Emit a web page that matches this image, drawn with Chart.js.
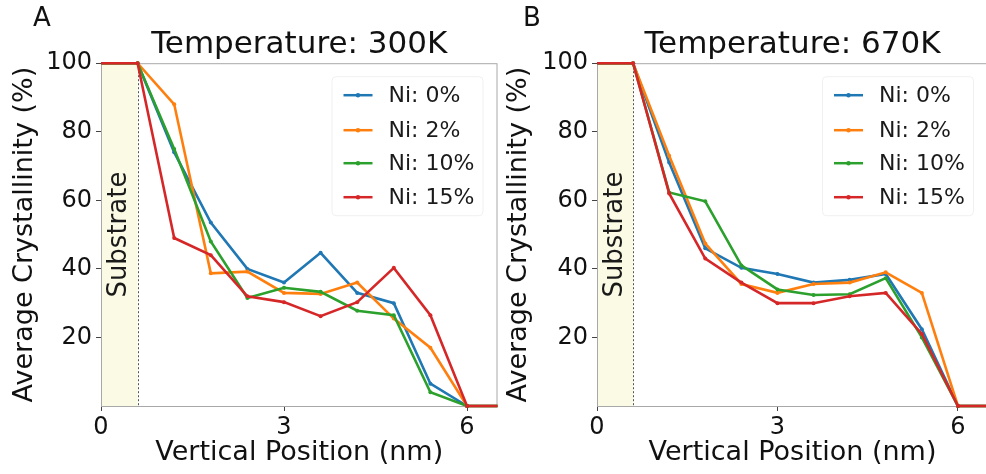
<!DOCTYPE html>
<html>
<head>
<meta charset="utf-8">
<script src="https://cdn.jsdelivr.net/npm/chart.js@4.4.0/dist/chart.umd.min.js"></script>
<style>
  html, body { margin: 0; padding: 0; background: #fff; overflow: hidden; }
  #wrap { position: relative; width: 986px; height: 474px; overflow: hidden; }
  #cA { position: absolute; left: 0; top: 0; }
  #cB { position: absolute; left: 500px; top: 0; }
</style>
</head>
<body>
<div id="wrap">
  <canvas id="cA" width="500" height="474"></canvas>
  <canvas id="cB" width="490" height="474"></canvas>
</div>
<script>
// vertical positions (nm), substrate ends at 0.6
var positions = [0, 0.6, 1.2, 1.8, 2.4, 3.0, 3.6, 4.2, 4.8, 5.4, 6.0, 6.5];
var substrateEnd = 0.6;
var xTicks = [0, 3, 6];
var yTicks = [20, 40, 60, 80, 100];
var labels = ['Ni: 0%', 'Ni: 2%', 'Ni: 10%', 'Ni: 15%'];
var colors = ['#1f77b4', '#ff7f0e', '#2ca02c', '#d62728'];

// 300K
var t300_ni0  = [100, 100, 74, 53.5, 40, 36, 44.7, 33, 30, 6.5, 0, 0];
var t300_ni2  = [100, 100, 88, 38.7, 39.2, 33, 32.7, 36, 25.5, 17, 0, 0];
var t300_ni10 = [100, 100, 75, 48, 31.5, 34.5, 33.3, 27.8, 26.5, 4, 0, 0];
var t300_ni15 = [100, 100, 49, 44, 32, 30.3, 26.2, 30.3, 40.3, 26.5, 0, 0];

// 670K
var t670_ni0  = [100, 100, 71, 46, 40.3, 38.5, 36, 36.8, 38.5, 22.4, 0, 0];
var t670_ni2  = [100, 100, 73, 47.4, 35.6, 33, 35.6, 36, 39, 33, 0, 0];
var t670_ni10 = [100, 100, 62.3, 59.7, 41, 34, 32.4, 32.6, 37.3, 20, 0, 0];
var t670_ni15 = [100, 100, 62, 43, 36, 30, 30, 32, 33, 21, 0, 0];

var FONT = '"DejaVu Sans", sans-serif';

function pts(vals) {
    return vals.map(function (v, i) { return {x: positions[i], y: v}; });
}

var deco = {
    id: 'deco',
    beforeDatasetsDraw: function (chart) {
        var ctx = chart.ctx, a = chart.chartArea;
        var xs = chart.scales.x.getPixelForValue(substrateEnd);
        ctx.save();
        ctx.fillStyle = '#fbfae4';
        ctx.fillRect(a.left, a.top, xs - a.left, a.bottom - a.top);
        // frame
        ctx.strokeStyle = '#a8a8a8';
        ctx.lineWidth = 1;
        ctx.strokeRect(a.left + 0.5, a.top + 0.5, a.right - a.left - 1, a.bottom - a.top);
        // dotted substrate boundary
        ctx.strokeStyle = '#555';
        ctx.setLineDash([2, 2]);
        ctx.beginPath();
        ctx.moveTo(Math.round(xs) + 0.5, a.top);
        ctx.lineTo(Math.round(xs) + 0.5, a.bottom);
        ctx.stroke();
        ctx.setLineDash([]);
        ctx.translate((a.left + xs) / 2, chart.scales.y.getPixelForValue(50));
        ctx.rotate(-Math.PI / 2);
        ctx.font = '26px ' + FONT;
        ctx.fillStyle = '#1a1a1a';
        ctx.textAlign = 'center';
        ctx.textBaseline = 'middle';
        ctx.fillText('Substrate', 0, 0);
        ctx.restore();
    },
    afterDraw: function (chart, args, opts) {
        var ctx = chart.ctx, a = chart.chartArea;
        ctx.save();
        // legend
        ctx.fillStyle = 'rgba(255,255,255,0.85)';
        ctx.strokeStyle = '#f0f0f0';
        ctx.lineWidth = 1;
        ctx.beginPath();
        ctx.roundRect(a.right - 165.5, a.top + 13.5, 151, 139, 4);
        ctx.fill();
        ctx.stroke();
        ctx.font = '22px ' + FONT;
        ctx.textBaseline = 'middle';
        ctx.textAlign = 'left';
        var rows = [32, 67, 100, 134];
        chart.data.datasets.forEach(function (ds, i) {
            var yy = a.top + rows[i];
            ctx.strokeStyle = ds.borderColor;
            ctx.lineWidth = 2.5;
            ctx.beginPath();
            ctx.moveTo(a.right - 154, yy);
            ctx.lineTo(a.right - 125, yy);
            ctx.stroke();
            ctx.fillStyle = ds.borderColor;
            ctx.beginPath();
            ctx.arc(a.right - 139.5, yy, 2.2, 0, Math.PI * 2);
            ctx.fill();
            ctx.fillStyle = '#1a1a1a';
            ctx.fillText(ds.label, a.right - 109, yy + 1);
        });
        // panel letter
        ctx.font = '26px ' + FONT;
        ctx.textAlign = 'center';
        ctx.fillStyle = '#111';
        ctx.fillText(opts.letter, opts.letterX, 19);
        ctx.restore();
    }
};

function makeChart(id, title, series, letter, letterX, axisW, padRight, yTitlePad) {
    var ctx = document.getElementById(id).getContext('2d');
    var datasets = series.map(function (vals, i) {
        return {
            label: labels[i],
            data: pts(vals),
            borderColor: colors[i],
            backgroundColor: colors[i],
            borderWidth: 2.6,
            pointRadius: function (c) { return (c.dataIndex === 0 || c.dataIndex === positions.length - 1) ? 0 : 2; },
            pointBorderWidth: 0,
            pointBackgroundColor: colors[i],
            tension: 0,
            clip: false,
            order: series.length - i   // last series (red) drawn on top, like matplotlib
        };
    });
    return new Chart(ctx, {
        type: 'line',
        data: {datasets: datasets},
        options: {
            responsive: false,
            animation: false,
            layout: {padding: {left: 0, right: padRight, top: 0, bottom: 0}},
            plugins: {
                legend: {display: false},
                tooltip: {enabled: false},
                title: {
                    display: true,
                    text: title,
                    fullSize: false,
                    color: '#111',
                    font: {size: 31, family: FONT, weight: 'normal'},
                    padding: {top: 26, bottom: 0}
                },
                deco: {letter: letter, letterX: letterX}
            },
            scales: {
                x: {
                    type: 'linear',
                    min: 0,
                    max: 6.5,
                    afterBuildTicks: function (s) { s.ticks = xTicks.map(function (v) { return {value: v}; }); },
                    afterFit: function (s) { s.height = 68; },
                    grid: {display: true, drawOnChartArea: false, tickLength: 5, color: '#444'},
                    border: {display: false},
                    ticks: {font: {size: 24, family: FONT}, color: '#111', padding: 2, maxRotation: 0},
                    title: {
                        display: true,
                        text: 'Vertical Position (nm)',
                        color: '#111',
                        font: {size: 27, family: FONT},
                        padding: {top: 0, bottom: 5}
                    }
                },
                y: {
                    min: 0,
                    max: 100,
                    afterBuildTicks: function (s) { s.ticks = yTicks.map(function (v) { return {value: v}; }); },
                    afterFit: function (s) { s.width = axisW; },
                    grid: {display: true, drawOnChartArea: false, tickLength: 5, color: '#444'},
                    border: {display: false},
                    ticks: {font: {size: 24, family: FONT}, color: '#111', padding: 4},
                    title: {
                        display: true,
                        text: 'Average Crystallinity (%)',
                        color: '#111',
                        font: {size: 27, family: FONT},
                        padding: {top: yTitlePad, bottom: 0}
                    }
                }
            }
        },
        plugins: [deco]
    });
}

makeChart('cA', 'Temperature: 300K', [t300_ni0, t300_ni2, t300_ni10, t300_ni15], 'A', 42, 101, 2.5, 9);
makeChart('cB', 'Temperature: 670K', [t670_ni0, t670_ni2, t670_ni10, t670_ni15], 'B', 32, 97, 2, 3);
</script>
</body>
</html>
